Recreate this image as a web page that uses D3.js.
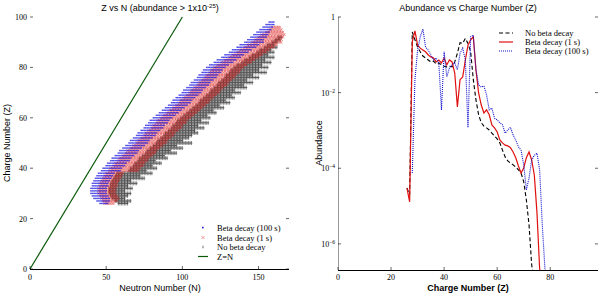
<!DOCTYPE html>
<html>
<head>
<meta charset="utf-8">
<script src="https://cdn.jsdelivr.net/npm/d3@7"></script>
<style>
  body { margin: 0; background: #fff; }
  svg text { fill: #000; }
  .tick-label { font-family: "Liberation Serif", serif; font-size: 8px; }
  .axis-title { font-family: "Liberation Sans", Arial, sans-serif; font-size: 9px; }
  .legend-text { font-family: "Liberation Serif", serif; font-size: 8.5px; }
</style>
</head>
<body>
<svg id="chart" width="600" height="295"></svg>
<script>
// ---- left panel: Z vs N, each row is one charge number Z with its N range
const rowZStart = 26;
const blueNMin = [46,44,42,41,40,40,40,41,41,42,43,44,45,47,48,50,51,53,54,56,58,59,61,63,65,66,68,70,71,73,75,76,78,79,81,83,85,87,89,91,93,94,96,98,100,101,103,105,106,108,110,111,113,114,116,118,121,123,126,128,131,133,136,138,141,143,145,147,149,151,153,155,157];
const blueNMax = [51,52,52,51,50,50,50,51,51,52,53,54,55,59,60,62,63,65,66,68,70,71,73,75,77,78,80,82,83,85,87,88,90,91,93,95,97,99,101,103,105,106,108,110,112,113,115,117,118,120,122,123,125,126,128,130,133,135,138,140,143,145,148,150,153,153,155,156,157,158,159,160,160];
const redNMin = [49,48,47,46,45,45,45,46,46,47,48,49,50,52,53,55,56,58,59,61,63,64,66,68,70,71,73,75,76,78,80,81,83,84,86,88,90,92,94,96,98,99,101,103,105,106,108,110,111,113,115,116,118,119,121,123,126,128,131,133,136,138,141,143,146,148,150,152,155,157,159];
const redNMax = [55,57,58,57,56,56,56,57,57,58,59,60,61,71,72,74,75,77,78,80,82,83,85,87,89,90,92,94,95,97,99,100,102,103,105,107,109,111,113,115,117,118,120,122,124,125,127,129,130,132,134,135,137,138,140,142,145,147,150,152,155,157,160,162,165,165,166,167,166,165,164];
const blackNMin = [58,56,54,53,52,52,52,53,53,54,55,56,57,65,66,68,69,71,72,74,76,77,79,81,83,84,86,88,89,91,93,94,96,97,99,101,103,105,107,109,111,112,114,116,118,119,121,123,124,126,128,129,131,132,134,136,139,141,144,146,149,151,154,156,159,161,163];
const blackNMax = [64,66,62,64,66,62,67,64,70,66,75,72,80,76,83,80,86,82,90,88,96,92,100,96,106,100,104,106,110,108,114,110,117,112,118,116,122,120,127,124,131,128,134,132,138,134,142,140,146,142,150,146,155,150,156,152,158,154,160,156,160,158,162,160,162,164,165];
const zvnXTicks = [0, 50, 100, 150];
const zvnYTicks = [0, 20, 40, 60, 80, 100];
const zEqualsN = [0, 100];

// ---- right panel: abundance vs Z
const noDecayZStart = 26;
const noDecayAbund = [3.0e-5,2.0e-5,0.40,0.25,0.16,0.12,0.093,0.082,0.073,0.065,0.068,0.057,0.061,0.054,0.050,0.048,0.050,0.048,0.065,0.11,0.21,0.20,0.27,0.20,0.12,0.022,0.0064,0.0026,0.0016,0.0013,0.00117,0.00103,0.00085,0.00071,0.0006,0.00047,0.0003,0.0002,0.000156,0.000138,0.000123,0.000108,9.1e-5,7.5e-5,4.4e-5,1.45e-5,3.2e-6,2.8e-7,1e-7];
const decay1sZStart = 26;
const decay1sAbund = [3.0e-5,1.3e-5,0.22,0.43,0.18,0.15,0.134,0.12,0.099,0.088,0.082,0.065,0.073,0.061,0.082,0.054,0.073,0.065,0.033,0.0042,0.022,0.026,0.073,0.18,0.25,0.30,0.040,0.0098,0.0047,0.0029,0.0035,0.0026,0.0014,0.00117,0.00091,0.00056,0.00047,0.00041,0.00039,0.00035,0.00027,0.00019,0.000115,7.5e-5,0.000102,0.00019,0.00027,0.000166,6.6e-5,6.6e-6,2.2e-7,1e-7];
const decay100sZStart = 28;
const decay100sAbund = [7.5e-5,0.022,0.134,0.30,0.48,0.16,0.134,0.099,0.073,0.082,0.061,0.0035,0.12,0.026,0.045,0.054,0.061,0.040,0.11,0.15,0.073,0.0012,0.30,0.33,0.04,0.016,0.014,0.015,0.0087,0.0035,0.0039,0.0021,0.0019,0.0016,0.0014,0.00085,0.00103,0.0012,0.00076,0.00056,0.00037,0.0003,0.000123,2.7e-5,5.5e-5,0.000166,0.00022,0.00025,9.1e-5,3.2e-6,2.2e-7,1e-7];
const abXTicks = [0, 20, 40, 60, 80];
const abYTicks = [1, 1e-2, 1e-4, 1e-6];

const svg = d3.select("#chart");

// ================= left panel =================
const xL = d3.scaleLinear().domain([0, 170]).range([30, 289]);
const yL = d3.scaleLinear().domain([0, 100]).range([269, 17]);

function rowsToPoints(zStart, nMin, nMax) {
  const pts = [];
  nMin.forEach((lo, i) => {
    for (let n = lo; n <= nMax[i]; n++) pts.push({ n: n, z: zStart + i });
  });
  return pts;
}
const blackPts = rowsToPoints(rowZStart, blackNMin, blackNMax);
const redPts = rowsToPoints(rowZStart, redNMin, redNMax);
const bluePts = rowsToPoints(rowZStart, blueNMin, blueNMax);

const left = svg.append("g");

// black "+" markers (no beta decay)
left.append("g").selectAll("path")
  .data(blackPts)
  .enter().append("path")
  .attr("d", d => {
    const x = xL(d.n), y = yL(d.z);
    return `M${x - 1},${y}H${x + 1}M${x},${y - 2}V${y + 2}`;
  })
  .attr("stroke", "#000")
  .attr("stroke-width", 0.5)
  .attr("opacity", 0.9);

// red "x" markers (1 s)
left.append("g").selectAll("path")
  .data(redPts)
  .enter().append("path")
  .attr("d", d => {
    const x = xL(d.n), y = yL(d.z), r = 1.2;
    return `M${x - r},${y - r}L${x + r},${y + r}M${x - r},${y + r}L${x + r},${y - r}`;
  })
  .attr("stroke", "#dc1a1a")
  .attr("stroke-width", 0.75)
  .attr("opacity", 0.6);

// blue dots (100 s)
left.append("g").selectAll("rect")
  .data(bluePts)
  .enter().append("rect")
  .attr("x", d => xL(d.n) - 0.8)
  .attr("y", d => yL(d.z) - 0.7)
  .attr("width", 1.6)
  .attr("height", 1.4)
  .attr("fill", "#1a14e0")
  .attr("opacity", 0.75);

// Z = N line
left.append("line")
  .attr("x1", xL(zEqualsN[0])).attr("y1", yL(zEqualsN[0]))
  .attr("x2", xL(zEqualsN[1])).attr("y2", yL(zEqualsN[1]))
  .attr("stroke", "#0a5a0a")
  .attr("stroke-width", 1.2);

// bottom spine + ticks
left.append("line")
  .attr("x1", 30).attr("x2", 289).attr("y1", 269.5).attr("y2", 269.5)
  .attr("stroke", "#000").attr("stroke-width", 1);
zvnXTicks.forEach(t => {
  left.append("line").attr("x1", xL(t)).attr("x2", xL(t)).attr("y1", 269).attr("y2", 266)
    .attr("stroke", "#000").attr("stroke-width", 0.6);
  left.append("text").attr("class", "tick-label")
    .attr("x", xL(t)).attr("y", 280).attr("text-anchor", "middle").text(t);
});
zvnYTicks.forEach(t => {
  left.append("line").attr("x1", 30).attr("x2", 33).attr("y1", yL(t)).attr("y2", yL(t))
    .attr("stroke", "#000").attr("stroke-width", 0.6);
  left.append("line").attr("x1", 286).attr("x2", 289).attr("y1", yL(t)).attr("y2", yL(t))
    .attr("stroke", "#000").attr("stroke-width", 0.6);
  left.append("text").attr("class", "tick-label")
    .attr("x", 27).attr("y", yL(t) + 3).attr("text-anchor", "end").text(t);
});

// titles
const tL = left.append("text").attr("class", "axis-title")
  .attr("x", 160).attr("y", 11).attr("text-anchor", "middle");
tL.append("tspan").text("Z vs N (abundance > 1x10");
tL.append("tspan").attr("dy", -3).attr("font-size", "6px").text("-25");
tL.append("tspan").attr("dy", 3).text(")");
left.append("text").attr("class", "axis-title")
  .attr("x", 160).attr("y", 291).attr("text-anchor", "middle").text("Neutron Number (N)");
left.append("text").attr("class", "axis-title")
  .attr("transform", "translate(10,143) rotate(-90)").attr("text-anchor", "middle")
  .text("Charge Number (Z)");

// legend
const legL = left.append("g");
const legLItems = ["Beta decay (100 s)", "Beta decay (1 s)", "No beta decay", "Z=N"];
const legLY = [228, 237.5, 247, 256.5];
legLItems.forEach((label, i) => {
  const y = legLY[i];
  if (i === 0) legL.append("rect").attr("x", 202).attr("y", y - 1.2).attr("width", 1.6).attr("height", 1.6).attr("fill", "#1a14e0");
  if (i === 1) legL.append("path").attr("d", `M201.5,${y - 1.5}L204.5,${y + 1.5}M201.5,${y + 1.5}L204.5,${y - 1.5}`).attr("stroke", "#dc1a1a").attr("stroke-width", 0.7).attr("opacity", 0.6);
  if (i === 2) legL.append("path").attr("d", `M202,${y}H204M203,${y - 1.5}V${y + 1.5}`).attr("stroke", "#555").attr("stroke-width", 0.5);
  if (i === 3) legL.append("line").attr("x1", 198).attr("x2", 208).attr("y1", y).attr("y2", y).attr("stroke", "#0a5a0a").attr("stroke-width", 1.2);
  legL.append("text").attr("class", "legend-text").attr("x", 217).attr("y", y + 3).text(label);
});

// ================= right panel =================
const xR = d3.scaleLinear().domain([0, 98]).range([338, 598]);
const yR = d3.scaleLog().domain([2.04e-7, 1]).range([270, 17]);

const right = svg.append("g");
right.append("clipPath").attr("id", "clipR")
  .append("rect").attr("x", 338).attr("y", 17).attr("width", 260).attr("height", 253);

const line = d3.line().x(d => xR(d.z)).y(d => yR(d.a));
function toSeries(zStart, vals) { return vals.map((a, i) => ({ z: zStart + i, a: a })); }

const curves = [
  { vals: toSeries(noDecayZStart, noDecayAbund), color: "#000", dash: "4,2.5", width: 1.1 },
  { vals: toSeries(decay1sZStart, decay1sAbund), color: "#e01010", dash: null, width: 1.2 },
  { vals: toSeries(decay100sZStart, decay100sAbund), color: "#1010d0", dash: "1,1", width: 1.1 }
];
const curveG = right.append("g").attr("clip-path", "url(#clipR)");
curves.forEach(c => {
  curveG.append("path").datum(c.vals)
    .attr("d", line)
    .attr("fill", "none")
    .attr("stroke", c.color)
    .attr("stroke-width", c.width)
    .attr("stroke-dasharray", c.dash);
});

// spines
right.append("line").attr("x1", 338.5).attr("x2", 338.5).attr("y1", 17).attr("y2", 270)
  .attr("stroke", "#999").attr("stroke-width", 1);
right.append("line").attr("x1", 338).attr("x2", 598).attr("y1", 270.5).attr("y2", 270.5)
  .attr("stroke", "#000").attr("stroke-width", 1);

abXTicks.forEach(t => {
  right.append("line").attr("x1", xR(t)).attr("x2", xR(t)).attr("y1", 270).attr("y2", 267)
    .attr("stroke", "#000").attr("stroke-width", 0.6);
  right.append("text").attr("class", "tick-label")
    .attr("x", xR(t)).attr("y", 280).attr("text-anchor", "middle").text(t);
});
abYTicks.forEach(t => {
  right.append("line").attr("x1", 338).attr("x2", 341).attr("y1", yR(t)).attr("y2", yR(t))
    .attr("stroke", "#000").attr("stroke-width", 0.6);
  right.append("line").attr("x1", 595).attr("x2", 598).attr("y1", yR(t)).attr("y2", yR(t))
    .attr("stroke", "#000").attr("stroke-width", 0.6);
  const lbl = right.append("text").attr("class", "tick-label")
    .attr("x", 335).attr("y", yR(t) + 3).attr("text-anchor", "end");
  if (t === 1) {
    lbl.text("1");
  } else {
    lbl.append("tspan").text("10");
    lbl.append("tspan").attr("dy", -3).attr("font-size", "5.5px").text("\u2212" + Math.round(-Math.log10(t)));
  }
});

right.append("text").attr("class", "axis-title")
  .attr("x", 468).attr("y", 11).attr("text-anchor", "middle").text("Abundance vs Charge Number (Z)");
right.append("text").attr("class", "axis-title").attr("font-weight", "bold")
  .attr("x", 468).attr("y", 291).attr("text-anchor", "middle").text("Charge Number (Z)");
right.append("text").attr("class", "axis-title")
  .attr("transform", "translate(322,143) rotate(-90)").attr("text-anchor", "middle").text("Abundance");

// legend
const legR = right.append("g");
const legRItems = ["No beta decay", "Beta decay (1 s)", "Beta decay (100 s)"];
const legRY = [33, 42, 51];
legRItems.forEach((label, i) => {
  const c = curves[i];
  legR.append("line").attr("x1", 499).attr("x2", 513).attr("y1", legRY[i]).attr("y2", legRY[i])
    .attr("stroke", c.color).attr("stroke-width", c.width).attr("stroke-dasharray", c.dash);
  legR.append("text").attr("class", "legend-text").attr("x", 525).attr("y", legRY[i] + 3).text(label);
});
</script>
</body>
</html>
